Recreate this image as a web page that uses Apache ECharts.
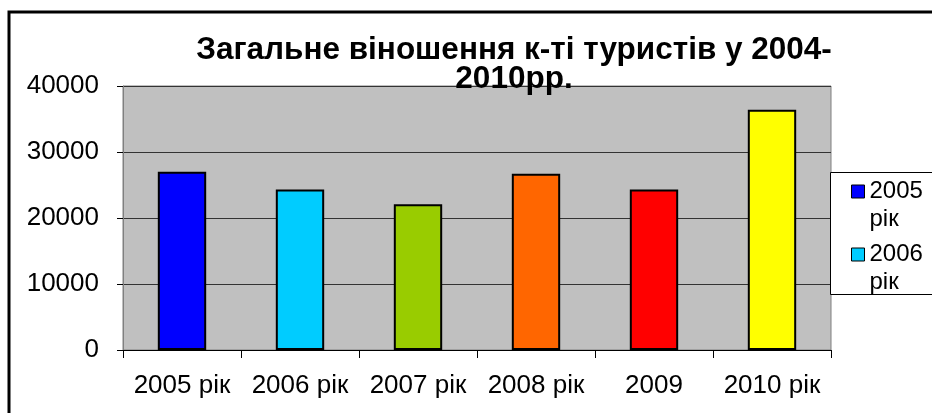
<!DOCTYPE html>
<html>
<head>
<meta charset="utf-8">
<script src="https://cdn.jsdelivr.net/npm/echarts@6/dist/echarts.min.js"></script>
<style>html,body{margin:0;padding:0;background:#fff}#c{width:932px;height:413px}</style>
</head>
<body>
<div id="c"></div>
<script>
const titleText = 'Загальне віношення к-ті туристів у 2004-\n2010рр.';
const categories = ['2005 рік', '2006 рік', '2007 рік', '2008 рік', '2009', '2010 рік'];
const seriesNames = ['2005 рік', '2006 рік', '2007 рік', '2008 рік', '2009', '2010 рік'];
const values = [27000, 24300, 22100, 26700, 24300, 36400];
const legendShown = ['2005 рік', '2006 рік'];
const yTicks = { min: 0, max: 40000, interval: 10000 };
const palette = ['#0000FF', '#00CCFF', '#99CC00', '#FF6600', '#FF0000', '#FFFF00'];

const FONT = "'Liberation Sans', Arial, sans-serif";
const chart = echarts.init(document.getElementById('c'), null, { renderer: 'canvas' });

const series = seriesNames.map((name, i) => ({
  name: name,
  type: 'bar',
  stack: 'one',
  barWidth: '41%',
  data: categories.map((c, j) => (j === i ? values[j] : null)),
  itemStyle: { color: palette[i], borderColor: '#000', borderWidth: 2 },
  emphasis: { disabled: true }
}));

chart.setOption({
  animation: false,
  backgroundColor: '#fff',
  textStyle: { fontFamily: FONT },
  title: {
    text: titleText,
    left: 509,
    top: 31,
    textAlign: 'center',
    textStyle: { fontFamily: FONT, fontSize: 31.5, fontWeight: 'bold', color: '#000', lineHeight: 29 }
  },
  graphic: [
    { type: 'rect', shape: { x: 9, y: 12, width: 940, height: 420 }, style: { fill: 'none', stroke: '#000', lineWidth: 3 }, z: 100, silent: true },
    { type: 'rect', shape: { x: 830.5, y: 172.5, width: 120, height: 122 }, style: { fill: '#fff', stroke: '#000', lineWidth: 1 }, z: 1, silent: true }
  ],
  legend: {
    data: legendShown,
    orient: 'vertical',
    left: 846,
    top: 172,
    itemGap: 6,
    itemWidth: 13,
    itemHeight: 56,
    icon: 'path://M0,0M0,7.5h13v13h-13zM0,56',
    z: 5,
    itemStyle: { borderColor: '#000', borderWidth: 1 },
    formatter: n => n.replace(' ', '\n'),
    textStyle: { fontFamily: FONT, fontSize: 24, color: '#000', lineHeight: 28 },
    selectedMode: false
  },
  grid: {
    left: 123, right: 101, top: 86, bottom: 63,
    show: true, backgroundColor: '#C0C0C0', borderColor: '#808080', borderWidth: 1
  },
  xAxis: {
    type: 'category',
    data: categories,
    axisLine: { show: true, lineStyle: { color: '#000', width: 1 } },
    axisTick: { show: true, length: 8, lineStyle: { color: '#000' } },
    axisLabel: { fontFamily: FONT, fontSize: 26, color: '#000', margin: 23, interval: 0 },
    splitLine: { show: false }
  },
  yAxis: {
    type: 'value',
    min: yTicks.min, max: yTicks.max, interval: yTicks.interval,
    axisLine: { show: true, lineStyle: { color: '#808080', width: 1 } },
    axisTick: { show: true, length: 6, lineStyle: { color: '#000' } },
    axisLabel: { fontFamily: FONT, fontSize: 26, color: '#000', margin: 24, formatter: v => String(v) },
    splitLine: { show: true, lineStyle: { color: '#333', width: 1 } }
  },
  series: series
});
</script>
</body>
</html>
